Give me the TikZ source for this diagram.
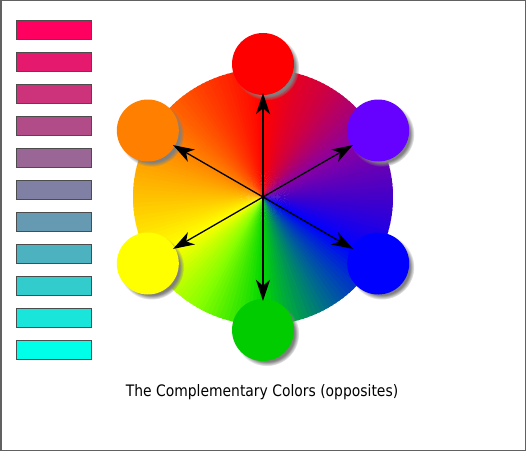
\documentclass[tikz,border=0pt]{standalone}
\usepackage{xcolor}
\usepackage{fontspec}
\usepackage{tikz}
\usetikzlibrary{arrows.meta}
\usetikzlibrary{shadows}
\newfontfamily\captionfont[FakeStretch=0.88]{DejaVu Sans}

% wheel colours, clockwise from the top
\definecolor{wheelA}{HTML}{FF0000}
\definecolor{wheelB}{HTML}{CC0044}
\definecolor{wheelC}{HTML}{8800A4}
\definecolor{wheelD}{HTML}{4400C8}
\definecolor{wheelE}{HTML}{0000FF}
\definecolor{wheelF}{HTML}{006C8C}
\definecolor{wheelG}{HTML}{00D800}
\definecolor{wheelH}{HTML}{88FF00}
\definecolor{wheelI}{HTML}{FFFF00}
\definecolor{wheelJ}{HTML}{FFC000}
\definecolor{wheelK}{HTML}{FF8400}
\definecolor{wheelL}{HTML}{FF4000}
% swatch ends
\definecolor{swTop}{HTML}{FF0060}
\definecolor{swBot}{HTML}{00FFE8}

\begin{document}
\begin{tikzpicture}[x=1pt,y=1pt,>={Stealth[length=21pt,width=14pt,inset=6pt]},shorten >=-2pt]
      \tikzstyle{hue node} = [circle, minimum size=62pt, inner sep=0pt,
         circular drop shadow={shadow xshift=3.5pt, shadow yshift=-3.5pt, shadow scale=1.05}]
      \tikzstyle{swatch} = [rectangle, draw=black!70, line width=1pt, inner sep=0pt,
         minimum width=75pt, minimum height=19pt]
      \tikzstyle{line} = [draw=black, line width=1.3pt, ->]
      \useasboundingbox (0,0) rectangle (526,451);
      \draw[line width=1.5pt, draw=black!62] (0.75,0.75) rectangle (525.25,450.25);

      %wheel
      \coordinate (ctr) at (263,254);
      \foreach \s/\ca/\cb in {90/wheelA/wheelB, 60/wheelB/wheelC, 30/wheelC/wheelD, 0/wheelD/wheelE,
            -30/wheelE/wheelF, -60/wheelF/wheelG, -90/wheelG/wheelH, -120/wheelH/wheelI,
            -150/wheelI/wheelJ, -180/wheelJ/wheelK, -210/wheelK/wheelL, -240/wheelL/wheelA}
        \foreach \j in {0,...,14} {
          \pgfmathtruncatemacro\p{100-\j*20/3}
          \colorlet{wedge}{\ca!\p!\cb}
          \fill[wedge] (ctr) -- ++({\s-2*\j+0.5}:130 and 128)
             arc[start angle={\s-2*\j+0.5}, end angle={\s-2*\j-2.5}, x radius=130, y radius=128] -- cycle;
        }

      %swatches
      \foreach \i in {0,...,10} {
        \pgfmathtruncatemacro\q{100-\i*10}
        \colorlet{swfill}{swTop!\q!swBot}
        \node[swatch, fill=swfill] (sw\i) at (53.8,421.3-32*\i) {};
      }

      %nodes
      \node[hue node, fill={rgb,255:red,255;green,0;blue,0}]   (red')    at ([shift={(90:133)}]ctr)  {};
      \node[hue node, fill={rgb,255:red,102;green,0;blue,255}] (violet') at ([shift={(30:133)}]ctr)  {};
      \node[hue node, fill={rgb,255:red,0;green,0;blue,255}]   (blue')   at ([shift={(-30:133)}]ctr) {};
      \node[hue node, fill={rgb,255:red,0;green,204;blue,0}]   (green')  at ([shift={(-90:133)}]ctr) {};
      \node[hue node, fill={rgb,255:red,255;green,255;blue,0}] (yellow') at ([shift={(210:133)}]ctr) {};
      \node[hue node, fill={rgb,255:red,255;green,128;blue,0}] (orange') at ([shift={(150:133)}]ctr) {};

      %lines
      \foreach \n in {red',violet',blue',green',yellow',orange'}
        \path [line] (ctr) -- (\n);

      \node[anchor=base, font=\captionfont\fontsize{15.8}{18}\selectfont] (caption) at (262,54.5)
         {The Complementary Colors (opposites)};
    \end{tikzpicture}
\end{document}
